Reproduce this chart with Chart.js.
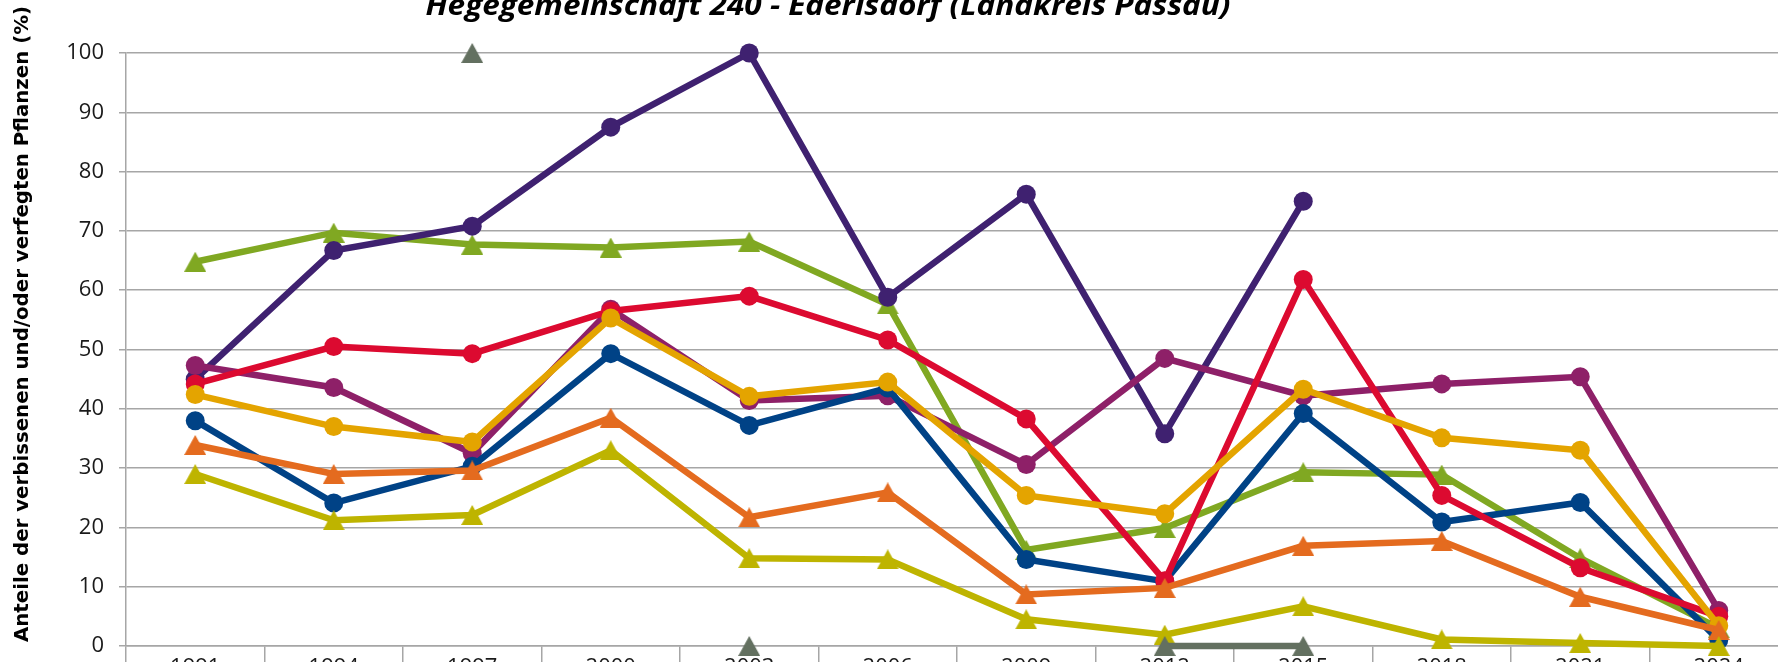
<!DOCTYPE html>
<html><head><meta charset="utf-8">
<script src="https://cdn.jsdelivr.net/npm/chart.js@4.4.1/dist/chart.umd.min.js"></script>
<style>
html,body{margin:0;padding:0;background:#fff;overflow:hidden;width:1778px;height:662px;}
#wrap{position:absolute;left:0;top:0;width:1830px;height:700px;}
</style></head><body>
<div id="wrap"><canvas id="c"></canvas></div>
<script>
const chartTitle = 'Hegegemeinschaft 240 - Ederlsdorf (Landkreis Passau)';
const yTitle = 'Anteile der verbissenen und/oder verfegten Pflanzen (%)';
const years = ['1991','1994','1997','2000','2003','2006','2009','2012','2015','2018','2021','2024'];
const yTicks = [0,10,20,30,40,50,60,70,80,90,100];

const seriesPurple  = [45.0, 66.7, 70.8, 87.5, 100, 58.8, 76.2, 35.8, 75.0, null, null, null];
const seriesGreen   = [64.8, 69.7, 67.7, 67.2, 68.2, 57.6, 16.2, 19.9, 29.3, 28.9, 14.8, 3.0];
const seriesRed     = [44.2, 50.5, 49.3, 56.5, 59.0, 51.6, 38.3, 11.0, 61.8, 25.4, 13.2, 5.0];
const seriesMagenta = [47.3, 43.6, 32.5, 56.8, 41.4, 42.2, 30.6, 48.5, 42.2, 44.2, 45.4, 6.0];
const seriesYellow  = [42.4, 37.0, 34.4, 55.3, 42.1, 44.5, 25.4, 22.3, 43.3, 35.1, 33.0, 3.4];
const seriesBlue    = [38.0, 24.1, 30.3, 49.3, 37.2, 43.5, 14.6, 10.9, 39.2, 20.9, 24.2, 1.0];
const seriesOrange  = [33.9, 29.0, 29.6, 38.5, 21.7, 25.9, 8.7, 9.8, 16.9, 17.7, 8.3, 2.7];
const seriesOlive   = [29.0, 21.2, 22.1, 33.0, 14.8, 14.6, 4.5, 1.9, 6.7, 1.1, 0.5, 0];
const seriesGray    = [null, null, 100, null, 0, null, null, 0, 0, null, null, null];

function triangleImage(color) {
  const w = 22, h = 20;
  const c = document.createElement('canvas');
  c.width = w; c.height = h;
  const g = c.getContext('2d');
  g.fillStyle = color;
  g.beginPath();
  g.moveTo(w / 2, 0);
  g.lineTo(w, h);
  g.lineTo(0, h);
  g.closePath();
  g.fill();
  return c;
}

function ds(label, data, color, style, order) {
  const tri = style === 'triangle';
  return {
    label, data, borderColor: color, backgroundColor: color,
    pointBackgroundColor: color, pointBorderColor: color, pointBorderWidth: 0,
    pointStyle: tri ? triangleImage(color) : 'circle',
    pointRadius: tri ? 11 : 9.5,
    pointHoverRadius: tri ? 11 : 9.5,
    borderWidth: 6.5, tension: 0, spanGaps: false, clip: false, order
  };
}

const titlePlugin = {
  id: 'customTitles',
  afterDraw(chart) {
    const ctx = chart.ctx;
    ctx.save();
    ctx.fillStyle = '#000';
    ctx.font = 'italic bold 28px "Open Sans"';
    ctx.textAlign = 'center';
    ctx.textBaseline = 'alphabetic';
    let w = ctx.measureText(chartTitle).width;
    ctx.translate(828, 15);
    ctx.scale(805 / w, 1);
    ctx.fillText(chartTitle, 0, 0);
    ctx.restore();

    ctx.save();
    ctx.fillStyle = '#000';
    ctx.font = 'bold 19px "DejaVu Sans"';
    ctx.textAlign = 'center';
    ctx.textBaseline = 'middle';
    w = ctx.measureText(yTitle).width;
    ctx.translate(23, 324);
    ctx.rotate(-Math.PI / 2);
    ctx.scale(636 / w, 1);
    ctx.fillText(yTitle, 0, 0);
    ctx.restore();
  }
};

new Chart(document.getElementById('c'), {
  type: 'line',
  data: {
    labels: years,
    datasets: [
      ds('Serie 9', seriesGray, '#637060', 'triangle', 0),
      ds('Serie 8', seriesOlive, '#BEB400', 'triangle', 1),
      ds('Serie 7', seriesOrange, '#E46B1F', 'triangle', 2),
      ds('Serie 5', seriesYellow, '#E4A400', 'circle', 3),
      ds('Serie 3', seriesRed, '#DC0A30', 'circle', 4),
      ds('Serie 6', seriesBlue, '#004286', 'circle', 5),
      ds('Serie 4', seriesMagenta, '#8E2068', 'circle', 6),
      ds('Serie 1', seriesPurple, '#3F2170', 'circle', 7),
      ds('Serie 2', seriesGreen, '#80A822', 'triangle', 8)
    ]
  },
  options: {
    responsive: true, maintainAspectRatio: false, animation: false, devicePixelRatio: 1,
    layout: { padding: { left: 0, top: 53, right: 42, bottom: 0 } },
    plugins: { legend: { display: false }, title: { display: false }, tooltip: { enabled: false } },
    events: [],
    scales: {
      x: {
        type: 'category', offset: true,
        grid: { offset: true, drawOnChartArea: false, drawTicks: true, tickLength: 30, color: '#a6a6a6', lineWidth: 1.5 },
        border: { display: true, color: '#a6a6a6', width: 1.5 },
        ticks: { font: { family: 'Open Sans', size: 22 }, color: '#1a1a1a', padding: -21, maxRotation: 0, autoSkip: false },
        afterFit(s) { s.height = 54; }
      },
      y: {
        min: 0, max: 100,
        afterBuildTicks(s) { s.ticks = yTicks.map(v => ({ value: v })); },
        grid: { color: '#a6a6a6', lineWidth: 1.5, tickLength: 7 },
        border: { display: true, color: '#a6a6a6', width: 1.5 },
        ticks: { font: { family: 'Open Sans', size: 22 }, color: '#1a1a1a', padding: 15 },
        afterFit(s) { s.width = 126; }
      }
    }
  },
  plugins: [titlePlugin]
});
</script>
</body></html>
